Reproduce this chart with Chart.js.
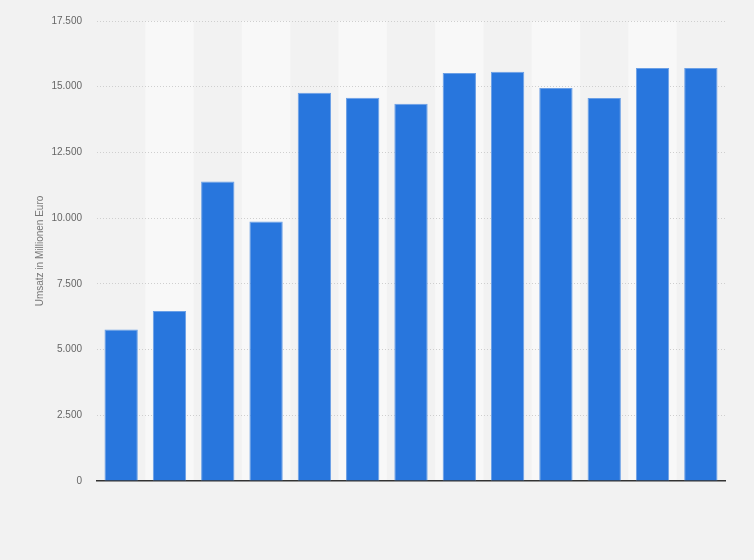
<!DOCTYPE html>
<html>
<head>
<meta charset="utf-8">
<script src="https://cdn.jsdelivr.net/npm/chart.js@4"></script>
<style>
  html, body { margin: 0; padding: 0; background: #f2f2f2; }
  #wrap { width: 754px; height: 560px; }
</style>
</head>
<body>
<div id="wrap"><canvas id="umsatz" width="754" height="560"></canvas></div>
<script>
// Jahre ohne sichtbare Beschriftung im Original
var jahre = ['1', '2', '3', '4', '5', '6', '7', '8', '9', '10', '11', '12', '13'];
var umsatz = [5760, 6470, 11390, 9870, 14770, 14580, 14350, 15520, 15570, 14950, 14570, 15710, 15710];
var yTicks = [0, 2500, 5000, 7500, 10000, 12500, 15000, 17500];

// abwechselnd helle Streifen hinter den Balken
var stripes = {
  id: 'stripes',
  beforeDraw: function(chart) {
    var ctx = chart.ctx;
    var x = chart.scales.x;
    var area = chart.chartArea;
    var step = (area.right - area.left) / jahre.length;
    ctx.save();
    ctx.fillStyle = '#f8f8f8';
    for (var i = 1; i < jahre.length; i += 2) {
      var cx = x.getPixelForValue(i);
      ctx.fillRect(cx - step / 2, area.top, step, area.bottom - area.top);
    }
    ctx.restore();
  }
};

var ctx = document.getElementById('umsatz').getContext('2d');
var myChart = new Chart(ctx, {
  type: 'bar',
  data: {
    labels: jahre,
    datasets: [{
      label: 'Umsatz in Millionen Euro',
      data: umsatz,
      backgroundColor: '#2876dd',
      borderColor: '#6a9fe6',
      borderWidth: 1,
      barPercentage: 0.69,
      categoryPercentage: 1
    }]
  },
  options: {
    responsive: false,
    animation: false,
    layout: { padding: { left: 0, right: 29, top: 20, bottom: 79 } },
    plugins: {
      legend: { display: false },
      tooltip: { enabled: false }
    },
    scales: {
      x: {
        grid: { display: false, drawTicks: false },
        border: { display: true, color: '#333333', width: 1.5 },
        ticks: { display: false }
      },
      y: {
        min: 0,
        max: 17500,
        afterBuildTicks: function(scale) {
          scale.ticks = yTicks.map(function(v) { return { value: v }; });
        },
        afterFit: function(scale) { scale.width = 97; },
        grid: {
          color: function(c) { return c.tick.value === 0 ? 'rgba(0,0,0,0)' : '#cfcfcf'; },
          drawTicks: false,
          lineWidth: 1
        },
        border: { display: false, dash: [1, 2] },
        ticks: {
          padding: 15,
          color: '#666666',
          font: { family: 'Arial, "Liberation Sans", sans-serif', size: 10 },
          callback: function(v) { return v.toLocaleString('de-DE'); }
        },
        title: {
          display: true,
          text: 'Umsatz in Millionen Euro',
          color: '#777777',
          font: { family: 'Arial, "Liberation Sans", sans-serif', size: 10 },
          padding: { top: 34, bottom: 0 }
        }
      }
    }
  },
  plugins: [stripes]
});
</script>
</body>
</html>
